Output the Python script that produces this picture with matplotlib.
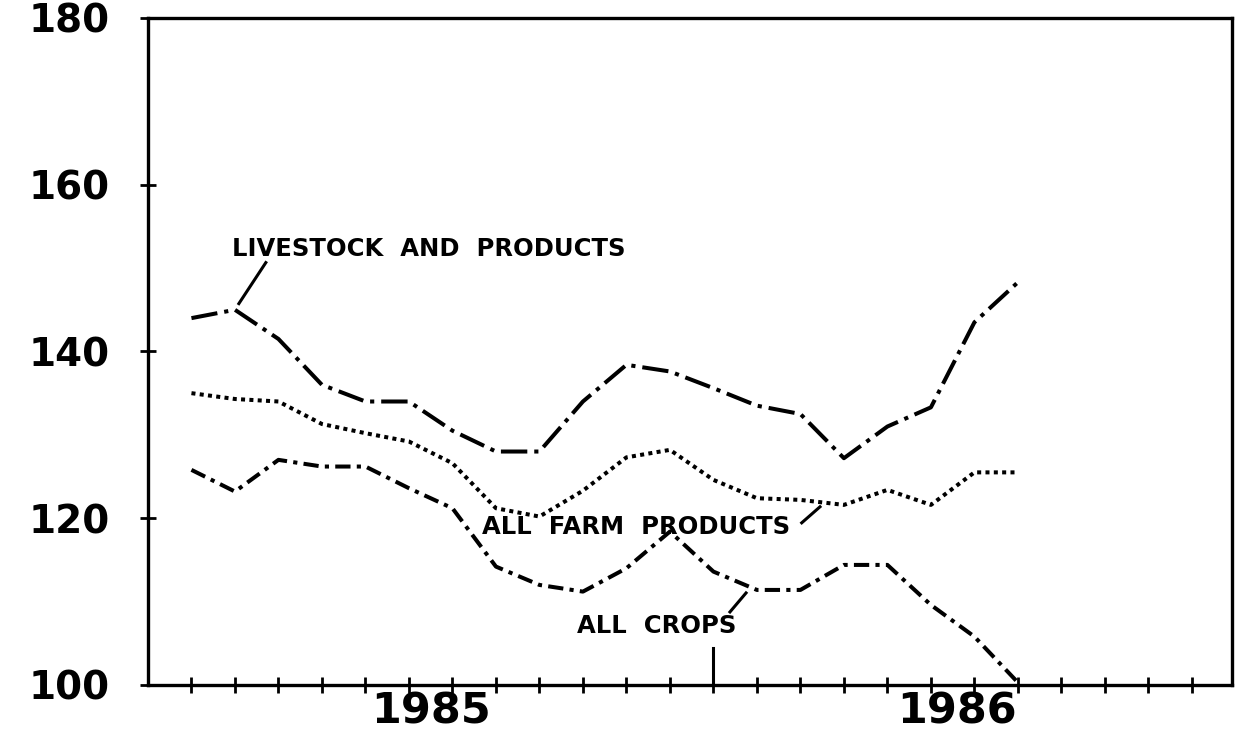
# Farm price index, livestock vs crops, 1985-1986
import numpy as np
import matplotlib
matplotlib.use("Agg")
from matplotlib import pyplot as plt
from matplotlib import transforms

plt.rcParams['font.family'] = ['DejaVu Sans']
plt.rcParams['font.weight'] = 'bold'
plt.rcParams['lines.scale_dashes'] = False

# monthly points, month index on the x axis
months = np.arange(1, 21)
livestock = [144, 145, 141.5, 136, 134, 134, 130.5, 128, 128, 134,
             138.4, 137.6, 135.6, 133.5, 132.5, 127.2, 131, 133.3, 143.5, 148.3]
all_farm = [135, 134.3, 134, 131.3, 130.2, 129.2, 126.6, 121.2, 120.2, 123.3,
            127.3, 128.2, 124.6, 122.4, 122.2, 121.6, 123.4, 121.6, 125.5, 125.5]
all_crops = [125.8, 123.2, 127, 126.2, 126.2, 123.6, 121.2, 114.2, 112, 111.2,
             114, 118.4, 113.6, 111.4, 111.4, 114.4, 114.4, 109.6, 105.8, 100.3]

y_ticks = [100, 120, 140, 160, 180]
years = ['1985', '1986']
year_pos = [6.5, 18.6]

fig = plt.figure(figsize=(12.36, 7.33), dpi=100)
ax = fig.add_axes([0.1197, 0.0655, 0.877, 0.910])

ax.plot(months, livestock, color='black', lw=2.9, ls=(0, (19, 5, 3, 5)))
ax.plot(months, all_farm, color='black', lw=2.9, ls=(0, (2.9, 3.1)))
ax.plot(months, all_crops, color='black', lw=2.9, ls=(0, (11, 4.5, 3, 4.5)))

ax.set_xlim(0, 24.92)
ax.set_ylim(100, 180)

ax.set_xticks(np.arange(1, 25))
ax.set_xticklabels([])
ax.tick_params(axis='x', direction='inout', length=11, width=2)
ax.set_yticks(y_ticks)
ax.set_yticklabels([str(v) for v in y_ticks], fontsize=28, fontweight='bold')
ax.tick_params(axis='y', direction='inout', length=11, width=2, pad=22)
for s in ax.spines.values():
    s.set_linewidth(2.4)

# year labels under the axis
trans = transforms.blended_transform_factory(ax.transData, ax.transAxes)
for yr, xp in zip(years, year_pos):
    ax.text(xp, -0.04, yr, transform=trans, ha='center', va='center',
            fontsize=31, fontweight='bold', clip_on=False)

# series labels with leader lines
ax.text(1.93, 152.3, 'LIVESTOCK  AND  PRODUCTS', ha='left', va='center',
        fontsize=17.5, fontweight='bold')
ax.plot([2.71, 2.09], [150.66, 145.74], color='black', lw=2.2)

ax.text(7.68, 119.0, 'ALL  FARM  PRODUCTS', ha='left', va='center',
        fontsize=17.5, fontweight='bold')
ax.plot([15.03, 15.45], [119.45, 121.37], color='black', lw=2.2)

ax.text(9.86, 107.1, 'ALL  CROPS', ha='left', va='center',
        fontsize=17.5, fontweight='bold')
ax.plot([13.38, 13.75], [108.76, 111.04], color='black', lw=2.2)
ax.plot([13, 13], [100, 104.4], color='black', lw=2.2)

fig.savefig('out.png', dpi=100)
